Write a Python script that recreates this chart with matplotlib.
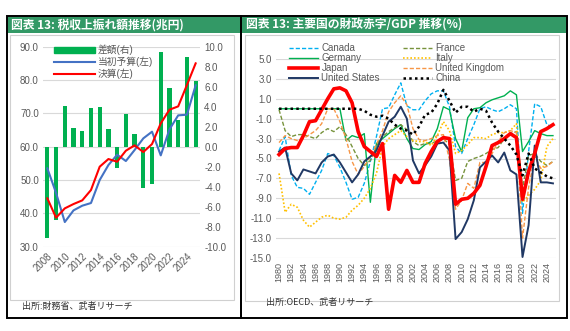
import matplotlib
matplotlib.use("Agg")
import matplotlib.pyplot as plt
import matplotlib.ticker as ticker
from matplotlib.patches import Rectangle, Patch

plt.rcParams['font.family'] = ['Liberation Sans', 'Noto Sans CJK JP', 'DejaVu Sans']

W, H = 570, 331

# --- left: tax revenue (trillion yen) ---
fy = list(range(2008, 2026))
budget = [53.5, 46.1, 37.4, 40.9, 42.3, 43.1, 50.0, 54.5, 57.6, 55.7,
          59.0, 62.5, 64.5, 57.4, 65.2, 69.4, 69.6, 78.4]
settle = [44.5, 38.7, 41.5, 42.8, 43.9, 47.0, 54.0, 56.3, 55.5, 58.8,
          60.4, 58.4, 60.8, 67.0, 71.1, 72.1, 78.5, 85.0]
diff = [-9.1, -7.3, 4.1, 1.9, 1.6, 3.9, 4.0, 1.8, -2.1, 3.3,
        1.3, -4.1, -3.7, 9.5, 5.9, 2.7, 9.0, 6.6]

# --- right: fiscal balance / GDP (%) ---
years = list(range(1980, 2026))
canada = [-4.2, -2.8, -6.7, -7.9, -8.0, -8.6, -7.4, -6.2, -4.5, -4.7,
          -5.9, -7.4, -9.1, -8.9, -7.5, -5.3, -2.8, 0.0, 0.1, 1.4,
          2.6, 0.3, -0.1, -0.1, 0.8, 1.5, 1.8, 1.8, 0.2, -3.8,
          -4.5, -3.0, -1.6, 0.0, 0.2, -0.1, -0.3, 0.0, 0.4, 0.0,
          -10.5, -4.3, 0.5, 0.2, -1.6, -1.8]
france = [-0.1, -2.2, -2.8, -2.6, -2.6, -2.8, -3.0, -2.4, -2.0, -2.3,
          -1.8, -2.6, -3.8, -5.0, -5.7, -5.2, -3.8, -2.8, -2.3, -1.9,
          -1.6, -2.1, -3.3, -3.7, -3.5, -3.5, -3.2, -3.0, -3.6, -7.2,
          -7.0, -5.3, -5.0, -4.8, -4.5, -4.1, -3.9, -3.0, -2.5, -2.3,
          -8.0, -4.7, -4.5, -5.3, -5.7, -5.3]
germany = [0.0, 0.0, 0.0, 0.0, 0.0, 0.0, 0.0, 0.0, 0.0, 0.0,
           0.0, -3.2, -2.7, -2.9, -2.5, -9.4, -3.5, -3.0, -2.5, -2.0,
           -1.6, -3.0, -4.0, -4.1, -3.6, -3.3, -2.0, 0.2, -0.1, -3.0,
           -4.3, -0.9, 0.0, 0.1, 0.6, 0.9, 1.1, 1.3, 1.8, 1.4,
           -4.3, -3.3, -2.2, -2.5, -2.7, -2.7]
italy = [-6.5, -10.4, -9.6, -9.9, -11.2, -11.9, -11.4, -10.9, -10.7, -11.0,
         -11.1, -10.9, -10.2, -9.7, -9.0, -8.0, -6.5, -3.8, -3.0, -2.6,
         -2.2, -2.8, -3.2, -3.3, -3.3, -3.7, -2.7, -1.3, -2.2, -4.5,
         -4.2, -3.6, -2.9, -2.9, -3.0, -2.6, -2.4, -2.4, -2.2, -1.5,
         -9.4, -8.7, -8.1, -7.2, -3.8, -3.0]
japan = [-4.6, -4.0, -3.9, -3.9, -2.7, -1.3, -1.2, -0.1, 1.0, 2.0,
         2.1, 1.8, 0.6, -2.3, -3.8, -4.3, -4.8, -3.5, -10.1, -6.7,
         -7.4, -6.2, -7.4, -7.4, -5.5, -4.3, -3.3, -2.9, -3.0, -9.6,
         -9.1, -9.0, -8.5, -7.7, -5.8, -3.7, -3.4, -3.0, -2.5, -2.9,
         -9.1, -6.3, -4.5, -2.3, -2.0, -1.6]
uk = [-3.4, -2.7, -3.0, -3.2, -3.0, -2.6, -2.2, -1.5, 0.0, 0.0,
      -1.3, -3.0, -5.3, -6.6, -5.8, -4.8, -3.6, -2.2, -0.3, 0.6,
      1.3, 0.4, -2.0, -3.1, -3.2, -3.0, -2.7, -2.6, -5.1, -10.1,
      -9.2, -7.5, -8.0, -5.4, -5.4, -4.5, -3.3, -2.4, -2.2, -2.4,
      -13.0, -7.9, -4.8, -6.0, -5.8, -5.3]
us = [-4.3, -3.9, -6.5, -7.2, -6.1, -6.3, -6.5, -5.4, -4.8, -4.6,
      -5.4, -6.4, -7.4, -6.6, -5.3, -4.8, -4.2, -2.7, -1.3, -0.8,
      0.2, -1.0, -5.2, -6.5, -5.7, -4.8, -3.5, -3.4, -4.2, -13.1,
      -12.4, -11.1, -9.2, -5.9, -5.3, -4.7, -5.4, -4.4, -6.2, -6.6,
      -14.9, -11.7, -3.7, -7.4, -7.4, -7.5]
china = [0.0, 0.0, 0.0, 0.0, 0.0, 0.0, 0.0, 0.0, 0.0, 0.0,
         0.0, 0.0, 0.0, 0.0, -0.2, -0.6, -0.8, -0.7, -1.0, -1.6,
         -2.0, -2.2, -2.6, -1.8, -0.6, -0.4, 0.5, 1.9, 0.8, -0.4,
         0.2, 0.2, -0.3, 0.0, -0.2, -1.4, -2.3, -3.0, -3.7, -4.6,
         -6.7, -4.5, -6.0, -6.4, -6.8, -7.0]
right_ticks = list(range(-15, 6, 2))

TICK = '#595959'
GRID = '#D9D9D9'
TITLE_BG = '#339966'


def box(x0, y0, x1, y1):
    # pixel box (from top-left) -> figure fraction [l, b, w, h]
    return [x0 / W, 1 - y1 / H, (x1 - x0) / W, (y1 - y0) / H]


fig = plt.figure(figsize=(W / 100, H / 100), dpi=100)

# frames and title bars
for x0, x1 in [(7, 241), (241, 567)]:
    b = box(x0, 16, x1, 318)
    fig.add_artist(Rectangle(b[:2], b[2], b[3], transform=fig.transFigure,
                             fill=False, ec='black', lw=1.4))
    b = box(x0 + 1, 17, x1 - 1, 33)
    fig.add_artist(Rectangle(b[:2], b[2], b[3], transform=fig.transFigure,
                             fc=TITLE_BG, ec='none'))
for x0, y0, x1, y1 in [(10, 35, 234, 300), (245, 35, 559, 301)]:
    b = box(x0, y0, x1, y1)
    fig.add_artist(Rectangle(b[:2], b[2], b[3], transform=fig.transFigure,
                             fill=False, ec='#D0D0D0', lw=0.8))

fig.text(11 / W, 1 - 25 / H, '図表 13: 税収上振れ額推移(兆円)', color='white',
         fontsize=8.5, fontweight='bold', va='center', family='Noto Sans CJK JP')
fig.text(246 / W, 1 - 25 / H, '図表 13: 主要国の財政赤字/GDP 推移(%)', color='white',
         fontsize=8.5, fontweight='bold', va='center', family='Noto Sans CJK JP')
fig.text(22 / W, 1 - 306 / H, '出所:財務省、武者リサーチ', fontsize=6.5,
         color='#333333', va='center', family='Noto Sans CJK JP')
fig.text(266 / W, 1 - 302 / H, '出所:OECD、武者リサーチ', fontsize=6.5,
         color='#333333', va='center', family='Noto Sans CJK JP')

# ---------------- left chart ----------------
axg = fig.add_axes(box(43, 46.7, 200, 246.7))
axg.set_ylim(30, 90)
axg.set_xlim(2007.5, 2025.5)
axg.yaxis.set_major_locator(ticker.MultipleLocator(10))
axg.yaxis.set_major_formatter(ticker.FormatStrFormatter('%.1f'))
axg.grid(axis='y', color=GRID, lw=0.8)
axg.set_axisbelow(True)
axg.set_xticks(fy[::2])
axg.set_xticklabels([str(y) for y in fy[::2]], rotation=45, ha='right',
                    rotation_mode='anchor')

axr = axg.twinx()
axr.set_ylim(-10, 10)
axr.yaxis.set_major_locator(ticker.MultipleLocator(2))
axr.yaxis.set_major_formatter(ticker.FormatStrFormatter('%.1f'))
axr.bar(fy, diff, width=0.48, color='#00B050')

axl = axg.twinx()
axl.set_ylim(30, 90)
axl.set_yticks([])
l1, = axl.plot(fy, budget, color='#4472C4', lw=1.5)
l2, = axl.plot(fy, settle, color='#FF0000', lw=1.5)

for a in (axg, axr, axl):
    for s in a.spines.values():
        s.set_visible(False)
    a.tick_params(length=0, labelsize=7, labelcolor=TICK, pad=3)

axl.legend([Patch(color='#00B050'), l1, l2], ['差額(右)', '当初予算(左)', '決算(左)'],
           loc='upper left', bbox_to_anchor=(0.04, 1.035), frameon=False,
           fontsize=7, handlelength=4.2, handleheight=0.6, handletextpad=0.3,
           labelspacing=0.15, borderpad=0, labelcolor=TICK)

# ---------------- right chart ----------------
ax = fig.add_axes(box(276, 59, 556, 258))
ax.set_ylim(-15, 5)
ax.set_xlim(1979.5, 2025.5)
ax.set_yticks(right_ticks)
ax.yaxis.set_major_formatter(ticker.FormatStrFormatter('%.1f'))
ax.grid(axis='y', color=GRID, lw=0.8)
ax.set_axisbelow(True)
ax.set_xticks(years[::2])
ax.set_xticklabels([str(y) for y in years[::2]], rotation=90)
for s in ax.spines.values():
    s.set_visible(False)
ax.tick_params(length=0, labelsize=7, labelcolor=TICK, pad=3)
ax.tick_params(axis='x', labelsize=6.5)

series = [
    ('Canada', canada, dict(color='#00B0F0', lw=1.0, ls=(0, (3, 1.5)))),
    ('Germany', germany, dict(color='#00B050', lw=1.0, ls='-')),
    ('Japan', japan, dict(color='#FF0000', lw=2.6, ls='-')),
    ('United States', us, dict(color='#203864', lw=1.4, ls='-')),
    ('France', france, dict(color='#77933C', lw=1.0, ls=(0, (3, 1.5)))),
    ('Italy', italy, dict(color='#FFC000', lw=1.2, ls=(0, (1, 1.2)))),
    ('United Kingdom', uk, dict(color='#F79646', lw=1.0, ls=(0, (3, 1.5)))),
    ('China', china, dict(color='black', lw=1.8, ls=(0, (1, 1.3)))),
]
z = {'Japan': 5, 'United States': 4, 'China': 6}
handles = []
for name, vals, st in series:
    h, = ax.plot(years, vals, label=name, zorder=z.get(name, 3), **st)
    handles.append(h)

ax.legend(handles=handles, loc='upper left', ncol=2, bbox_to_anchor=(0.03, 1.105),
          frameon=False, fontsize=7, handlelength=3.0, handletextpad=0.3,
          labelspacing=0.0, columnspacing=2.4, borderpad=0, labelcolor=TICK)

fig.savefig('out.png', dpi=100)
